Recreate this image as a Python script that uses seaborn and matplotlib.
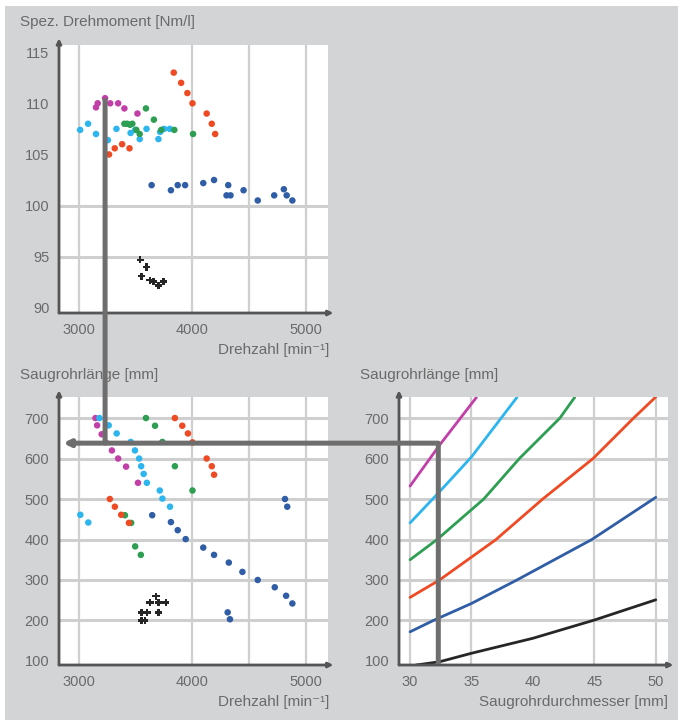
import numpy as np
import pandas as pd
import matplotlib
matplotlib.use("Agg")
import matplotlib.pyplot as plt
import seaborn as sns
from matplotlib.patches import Rectangle, ConnectionPatch

# ---------------- data ----------------
series_order = ["magenta", "cyan", "green", "red", "blue", "black"]
palette = {"magenta": "#c23fa8", "cyan": "#2cb5ee", "green": "#2d9e52",
           "red": "#ee4a24", "blue": "#2f5da6", "black": "#262626"}

# top panel: specific torque [Nm/l] vs engine speed [1/min]
torque_magenta_x = [3150, 3165, 3230, 3275, 3345, 3400, 3515]
torque_magenta_y = [109.6, 110.0, 110.5, 110.0, 110.0, 109.5, 109.0]
torque_cyan_x = [3010, 3080, 3150, 3255, 3330, 3455, 3495, 3535, 3595, 3700, 3715, 3750, 3800]
torque_cyan_y = [107.4, 108.0, 107.0, 106.4, 107.5, 107.1, 107.4, 106.5, 107.5, 106.5, 107.2, 107.5, 107.5]
torque_green_x = [3400, 3425, 3450, 3470, 3505, 3535, 3590, 3660, 3725, 3840, 4005]
torque_green_y = [108.0, 108.0, 107.9, 108.0, 107.4, 107.0, 109.5, 108.4, 107.4, 107.4, 107.0]
torque_red_x = [3265, 3315, 3380, 3445, 3835, 3900, 3955, 4000, 4125, 4170, 4200]
torque_red_y = [105.0, 105.6, 106.0, 105.6, 113.0, 112.0, 111.0, 110.0, 109.0, 108.0, 107.0]
torque_blue_x = [3640, 3810, 3870, 3935, 4095, 4190, 4315, 4300, 4335, 4450, 4575, 4720, 4805, 4830, 4880]
torque_blue_y = [102.0, 101.5, 102.0, 102.0, 102.2, 102.5, 102.0, 101.0, 101.0, 101.5, 100.5, 101.0, 101.6, 101.0, 100.5]
torque_black_x = [3540, 3595, 3550, 3625, 3655, 3700, 3745]
torque_black_y = [94.7, 94.0, 93.1, 92.7, 92.6, 92.2, 92.6]

# lower left: intake runner length [mm] vs engine speed
length_magenta_x = [3145, 3160, 3200, 3235, 3290, 3345, 3415, 3520]
length_magenta_y = [700, 682, 660, 640, 620, 600, 580, 540]
length_cyan_x = [3180, 3262, 3332, 3456, 3493, 3530, 3548, 3570, 3598, 3712, 3735, 3802, 3012, 3082]
length_cyan_y = [700, 682, 662, 641, 620, 600, 581, 562, 540, 521, 501, 481, 461, 442]
length_green_x = [3590, 3670, 3735, 3845, 4000, 3405, 3460, 3495, 3545]
length_green_y = [700, 681, 641, 581, 521, 460, 441, 383, 362]
length_red_x = [3845, 3910, 3960, 4000, 4125, 4170, 4190, 3272, 3316, 3372, 3440]
length_red_y = [700, 681, 662, 640, 600, 581, 560, 500, 481, 461, 441]
length_blue_x = [3645, 3810, 3870, 3940, 4095, 4190, 4320, 4440, 4575, 4725, 4825, 4880, 4815, 4835, 4310, 4330]
length_blue_y = [460, 443, 423, 401, 380, 362, 343, 320, 300, 282, 261, 242, 500, 481, 220, 203]
length_black_x = [3680, 3625, 3700, 3765, 3550, 3600, 3700, 3550, 3580]
length_black_y = [260, 244, 244, 244, 220, 220, 220, 200, 200]

# lower right: runner length vs runner diameter [mm]
curve_magenta_x = [30, 32.4, 35.4]
curve_magenta_y = [532, 633, 751]
curve_cyan_x = [30, 32.4, 35.0, 38.7]
curve_cyan_y = [441, 518, 604, 751]
curve_green_x = [30, 32.2, 36.0, 38.9, 42.2, 43.4]
curve_green_y = [350, 400, 500, 600, 700, 751]
curve_red_x = [30, 32.4, 37.0, 40.8, 44.9, 48.2, 50]
curve_red_y = [257, 300, 400, 500, 600, 700, 752]
curve_blue_x = [30, 31.9, 35.0, 38.7, 44.8, 50]
curve_blue_y = [172, 200, 242, 300, 400, 504]
curve_black_x = [30.5, 32.4, 35, 40, 45, 50]
curve_black_y = [90, 98, 119, 156, 201, 251]

# reading example (gray guide lines)
guide_speed = 3230
guide_torque = 110.5
guide_length = 638
guide_diameter = 32.3

top_ticks_x = [3000, 4000, 5000]
top_ticks_y = [90, 95, 100, 105, 110, 115]
len_ticks_y = [100, 200, 300, 400, 500, 600, 700]
dia_ticks_x = [30, 35, 40, 45, 50]
speed_grid = [3000, 4000, 4500, 5000]
torque_grid = [95, 100]
length_grid = [200, 300, 400, 500, 600, 700]
dia_grid = [30, 35, 45, 50]


def frame(prefix):
    g = globals()
    rows = []
    for s in series_order:
        xs, ys = g[f"{prefix}_{s}_x"], g[f"{prefix}_{s}_y"]
        rows += [{"x": a, "y": b, "series": s} for a, b in zip(xs, ys)]
    return pd.DataFrame(rows)


df_torque = frame("torque")
df_length = frame("length")
df_curve = frame("curve")

# ---------------- style ----------------
sns.set_style("white")
FONT = ["Liberation Sans", "DejaVu Sans"]
plt.rcParams["font.family"] = FONT
TXT = "#6a6a6a"
AXC = "#555555"
GRID = "#cfcfcf"

W, H = 678, 722
fig = plt.figure(figsize=(W / 100, H / 100), dpi=100, facecolor="white")
fig.add_artist(Rectangle((5 / W, 2 / H), 1 - 5 / W, (H - 8) / H, transform=fig.transFigure,
                         facecolor="#d3d4d6", edgecolor="none", zorder=-10))


def px_axes(l, t, r, b):
    return fig.add_axes([l / W, 1 - b / H, (r - l) / W, (b - t) / H])


ax1 = px_axes(59, 45, 328, 313)
ax2 = px_axes(59, 397, 328, 665)
ax3 = px_axes(399, 397, 668, 665)


def style(ax, xlim, ylim, xticks, yticks, gx, gy):
    ax.set_facecolor("white")
    ax.set_xlim(*xlim)
    ax.set_ylim(*ylim)
    ax.set_xticks(xticks)
    ax.set_yticks(yticks)
    for s in ax.spines.values():
        s.set_visible(False)
    for v in gx:
        ax.axvline(v, color=GRID, lw=1.6, zorder=0)
    for v in gy:
        ax.axhline(v, color=GRID, lw=2.2, zorder=0)
    ax.tick_params(length=0, labelsize=10.5, labelcolor=TXT, pad=7)
    ax.set_xlabel("")
    ax.set_ylabel("")
    ax.annotate("", xy=(0, 1.025), xytext=(0, 0), xycoords="axes fraction",
                arrowprops=dict(arrowstyle="-|>", lw=2.0, color=AXC, mutation_scale=7,
                                shrinkA=0, shrinkB=0), annotation_clip=False)
    ax.annotate("", xy=(1.02, 0), xytext=(0, 0), xycoords="axes fraction",
                arrowprops=dict(arrowstyle="-|>", lw=2.0, color=AXC, mutation_scale=7,
                                shrinkA=0, shrinkB=0), annotation_clip=False)


sns.scatterplot(data=df_torque[df_torque.series != "black"], x="x", y="y", hue="series",
                palette=palette, s=22, marker="o", edgecolor="none", legend=False, ax=ax1, zorder=3)
sns.scatterplot(data=df_torque[df_torque.series == "black"], x="x", y="y", hue="series",
                palette=palette, s=28, marker="P", edgecolor="none", legend=False, ax=ax1, zorder=3)
sns.scatterplot(data=df_length[df_length.series != "black"], x="x", y="y", hue="series",
                palette=palette, s=22, marker="o", edgecolor="none", legend=False, ax=ax2, zorder=3)
sns.scatterplot(data=df_length[df_length.series == "black"], x="x", y="y", hue="series",
                palette=palette, s=28, marker="P", edgecolor="none", legend=False, ax=ax2, zorder=3)
sns.lineplot(data=df_curve, x="x", y="y", hue="series", palette=palette, lw=2.0,
             legend=False, ax=ax3, sort=True, estimator=None, zorder=3)

style(ax1, (2824, 5194), (89.5, 115.7), top_ticks_x, top_ticks_y, speed_grid, torque_grid)
style(ax2, (2824, 5194), (90.0, 752), top_ticks_x, len_ticks_y, speed_grid, length_grid)
style(ax3, (29.1, 51.0), (90.0, 752), dia_ticks_x, len_ticks_y, dia_grid, length_grid)

# guide lines
GL = dict(color="#6e6e6e", lw=3.6, zorder=20)
fig.add_artist(ConnectionPatch(xyA=(guide_speed, guide_torque), coordsA=ax1.transData,
                               xyB=(guide_speed, guide_length), coordsB=ax2.transData,
                               capstyle="butt", **GL))
fig.add_artist(ConnectionPatch(xyA=(guide_diameter, guide_length), coordsA=ax3.transData,
                               xyB=(2860, guide_length), coordsB=ax2.transData,
                               arrowstyle="-|>", mutation_scale=9, shrinkA=0, shrinkB=0,
                               fc="#6e6e6e", **GL))
fig.add_artist(ConnectionPatch(xyA=(guide_diameter, guide_length), coordsA=ax3.transData,
                               xyB=(guide_diameter, 92), coordsB=ax3.transData,
                               capstyle="butt", **GL))

# labels
def ftext(x, y, s, ha="left"):
    fig.text(x / W, 1 - y / H, s, ha=ha, va="center", color=TXT, fontsize=11,
             family=FONT)

ftext(20, 22, "Spez. Drehmoment [Nm/l]")
ftext(329, 350, "Drehzahl [min⁻¹]", ha="right")
ftext(20, 375, "Saugrohrlänge [mm]")
ftext(329, 702, "Drehzahl [min⁻¹]", ha="right")
ftext(360, 375, "Saugrohrlänge [mm]")
ftext(668, 702, "Saugrohrdurchmesser [mm]", ha="right")

fig.savefig("out.png", dpi=100, facecolor=fig.get_facecolor())
